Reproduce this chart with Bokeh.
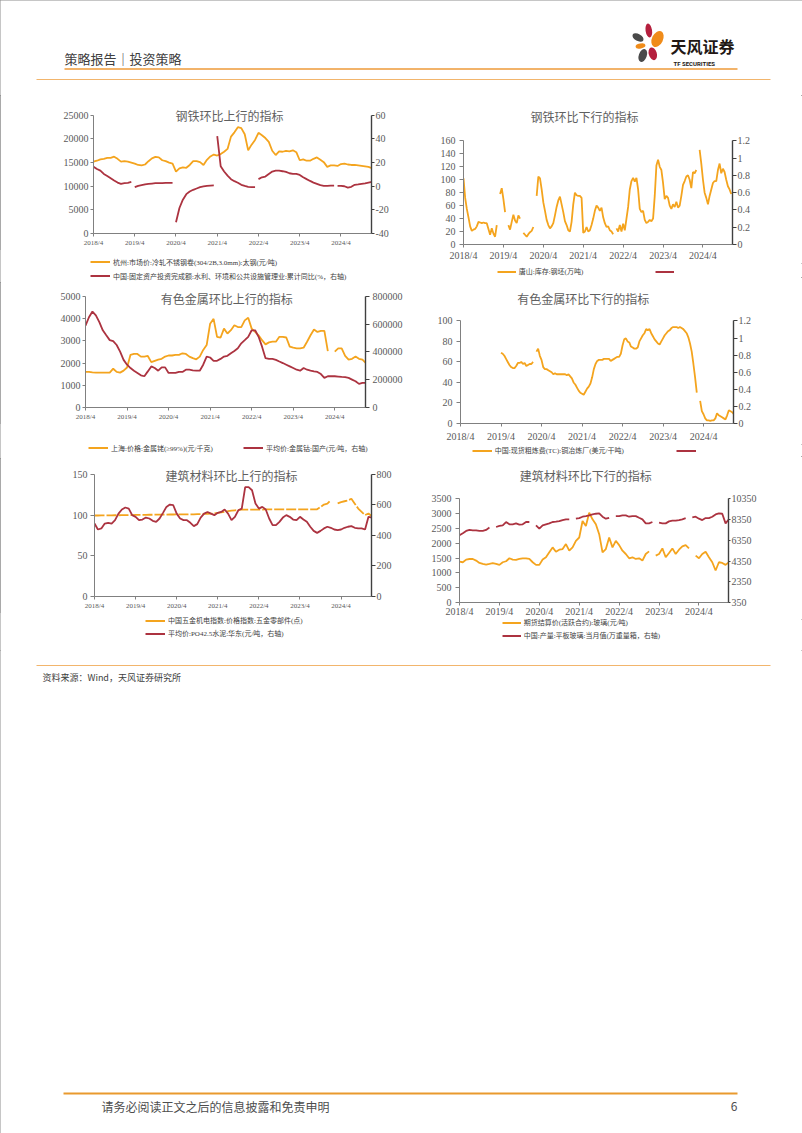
import numpy as np
from bokeh.plotting import figure
from bokeh.models import Range1d, LinearAxis, FixedTicker, Label, Legend, LegendItem
from bokeh.layouts import column, row
from bokeh.embed import file_html
from bokeh.resources import INLINE
from bokeh.core.properties import value

nan = float("nan")
GAP = None  # break in a line without skipping a month

ORANGE = "#F4A41E"
RED = "#AC3340"
SERIF = "Liberation Serif, Noto Sans CJK SC"
CJK = "Noto Sans CJK SC"

YEAR_TICKS = ["2018/4", "2019/4", "2020/4", "2021/4", "2022/4", "2023/4", "2024/4"]

# ---------------- chart 1: 钢铁环比上行的指标 (monthly from 2018/4) ----------------
c1_title = "钢铁环比上行的指标"
c1_name_l = "杭州:市场价:冷轧不锈钢卷(304/2B,3.0mm):太钢(元/吨)"
c1_name_r = "中国:固定资产投资完成额:水利、环境和公共设施管理业:累计同比(%，右轴)"
c1_ticks_l = ["0", "5000", "10000", "15000", "20000", "25000"]
c1_ticks_r = ["-40", "-20", "0", "20", "40", "60"]
c1_steel = [15200, 15400, 15700, 15800, 16000, 16000, 16250, 15800, 15200, 15300, 15200, 15000,
            14800, 14500, 14400, 14600, 15300, 15900, 16200, 16100, 15500, 15300, 15000, 14800,
            13100, 13800, 14000, 13900, 14500, 15300, 15300, 15100, 14500, 15600, 16300, 16700,
            16500, 16800, 17300, 17900, 20500, 21400, 22500, 22300, 21000, 17600, 18800, 19800,
            21300, 20800, 20200, 19400, 17500, 16600, 17400, 17300, 17500, 17400, 17600, 17200,
            15500, 15700, 15400, 15400, 15800, 16100, 15600, 15100, 14100, 14400, 14400, 14300,
            14700, 14800, 14600, 14500, 14500, 14400, 14300, 14200, 14100, 13800]
c1_fai = [16.6, 14.6, 13.2, 10.4, 8.7, 6.8, 4.8, 3.1, 2.0, 2.6, 2.9, 3.7, GAP,
          -0.8, 0.3, 0.9, 1.5, 2.0, 2.3, 2.6, 2.6, 2.6, 2.8, 2.9, 2.9, GAP,
          -30.5, -18.4, -11.4, -6.7, -4.4, -3.0, -1.9, -0.8, -0.2, 0.3, 0.6, 0.7, GAP,
          42.4, 17.0, 12.5, 9.0, 6.0, 4.3, 3.0, 1.2, 0.3, -0.5, -0.8, -0.8, GAP,
          6.0, 7.6, 8.2, 10.4, 12.4, 13.2, 13.2, 12.7, 12.1, 11.0, 10.4, 10.4, 9.6, 7.6, 6.0,
          4.5, 3.1, 2.0, 0.9, 0.3, 0.3, 0.5, 0.5, GAP,
          0.3, 0.3, 0.0, -1.1, -0.5, 1.2, 1.5, 2.0, 2.5, 3.1, 3.7]

# ---------------- chart 2: 钢铁环比下行的指标 (half-monthly from 2018/4) ----------------
c2_title = "钢铁环比下行的指标"
c2_name_l = "唐山:库存:钢坯(万吨)"
c2_ticks_l = ["0", "20", "40", "60", "80", "100", "120", "140", "160"]
c2_ticks_r = ["0", "0.2", "0.4", "0.6", "0.8", "1", "1.2"]
c2_billet = [102, 72, 55, 42, 28, 21, 23, 24, 28, 35, 34, 33, 34, 33, 33, 24, 15, 25, 17, 12, 30, nan,
             78, 87, 70, 50, nan, 30, 23, 35, 46, 37, 33, 45, 40, nan, 18, 15, 12, 16, 19, 21, 27, nan,
             75, 105, 102, 85, 65, 52, 38, 30, 25, 28, 33, 45, 58, 68, 74, 62, 50, 36, 30, 22, 20, 35,
             62, 80, 76, 75, 75, 72, 18, 20, 27, 20, 22, 30, 40, 52, 60, 57, 52, 57, 42, 33, 27, 28,
             22, 20, 16, nan, 25, 20, 30, 20, 32, 22, 40, 58, 85, 98, 103, 97, 103, 85, 55, 50, 52, 38,
             33, 35, 38, 36, 40, 75, 122, 131, 120, 115, 95, 70, 75, 72, 60, 55, 62, 58, 66, 57, 60, 75,
             92, 98, 105, 107, 100, 87, 112, 110, 115, nan, 146, 125, 100, 80, 72, 62, 75, 85, 95, 98,
             98, 115, 125, 110, 117, 112, 100, 90, 85, 78]

# ---------------- chart 3: 有色金属环比上行的指标 (monthly from 2018/4) ----------------
c3_title = "有色金属环比上行的指标"
c3_name_l = "上海:价格:金属铑(≥99%)(元/千克)"
c3_name_r = "平均价:金属钴:国产(元/吨，右轴)"
c3_ticks_l = ["0", "1000", "2000", "3000", "4000", "5000"]
c3_ticks_r = ["0", "200000", "400000", "600000", "800000"]
c3_rhodium = [1600, 1600, 1580, 1570, 1570, 1570, 1570, 1570, 1745, 1600, 1570, 1660,
              1800, 2370, 2410, 2410, 2290, 2290, 2320, 2040, 2100, 2150, 2190, 2290,
              2340, 2340, 2370, 2370, 2440, 2410, 2290, 2220, 2170, 2290, 2590, 2810,
              3770, 3990, 3180, 3140, 3550, 3330, 3480, 3700, 3620, 3620, 3920, 4040,
              3550, 3400, 3250, 3030, 2840, 2930, 2960, 2960, 3180, 3180, 3150, 2740,
              2690, 2660, 2660, 2690, 2960, 3250, 3510, 3400, 3450, 3450, 2540, nan,
              2510, 2660, 2660, 2320, 2150, 2190, 2290, 2190, 2150, 2000]
c3_cobalt = [590000, 650000, 691000, 663000, 615000, 556000, 520000, 485000, 478000, 450000, 402000, 343000,
             308000, 284000, 265000, 249000, 232000, 225000, 260000, 296000, 284000, 265000, 289000, 289000,
             249000, 249000, 249000, 256000, 256000, 272000, 272000, 268000, 265000, 265000, 308000, 367000,
             360000, 336000, 336000, 350000, 367000, 372000, 390000, 407000, 426000, 462000, 485000, 509000,
             556000, 556000, 509000, 438000, 355000, 350000, 350000, 343000, 331000, 320000, 308000, 296000,
             284000, 272000, 265000, 284000, 272000, 265000, 260000, 256000, 241000, 213000, 225000, 225000,
             225000, 223000, 220000, 218000, 213000, 201000, 189000, 170000, 177000, 177000]

# ---------------- chart 4: 有色金属环比下行的指标 (half-monthly from 2019/4) ----------------
c4_title = "有色金属环比下行的指标"
c4_name_l = "中国:现货粗炼费(TC):铜冶炼厂(美元/干吨)"
c4_ticks_l = ["0", "20", "40", "60", "80", "100"]
c4_ticks_r = ["0", "0.2", "0.4", "0.6", "0.8", "1", "1.2"]
c4_tc = [69, 68, 66, 63, 60, 57, 55, 54, 54, 56, 59, 59, 60, 58, 59, 56, 57, 58, 58, 60, nan,
         70, 73, 66, 62, 55, 53, 53, 52, 51, 50, 48, 49, 48, 48, 48, 48, 48, 48, 47, 48,
         46, 44, 40, 38, 35, 32, 30, 29, 28, 31, 34, 36, 39, 45, 53, 58, 61, 62, 62, 62,
         63, 63, 63, 63, 61, 62, 63, 64, 65, 65, 68, 76, 82, 83, 80, 79, 75, 74, 73, 73,
         74, 80, 83, 86, 88, 92, 91, 92, 88, 85, 82, 80, 78, 77, 80, 83, 86, 88, 90, 91,
         93, 94, 94, 94, 93, 94, 93, 92, 90, 88, 84, 78, 70, 58, 45, 30, nan,
         22, 12, 9, 5, 3, 3, 2.5, 3, 3, 5, 10, 8, 7, 6, 5, 4, 8, 13, 12, 11, 9]

# ---------------- chart 5: 建筑材料环比上行的指标 (monthly from 2018/4) ----------------
c5_title = "建筑材料环比上行的指标"
c5_name_l = "中国五金机电指数:价格指数:五金零部件(点)"
c5_name_r = "平均价:PO42.5水泥:华东(元/吨，右轴)"
c5_ticks_l = ["0", "50", "100", "150"]
c5_ticks_r = ["0", "200", "400", "600", "800"]
c5_hardware = [99.5, 99.5, 99.6, 99.6, 99.7, 99.7, 99.8, 99.8, 99.9, 99.9, 100, 100,
               100.2, 100.2, 100.3, 100.3, 100.4, 100.4, 100.5, 100.5, 100.6, 100.6, 100.7, 100.7,
               100.8, 100.8, 100.9, 100.9, 101, 101, 101.1, 101.2, 101.4, 101.6, 101.8, 102.0,
               102.7, 103.3, 104.0, 104.8, 105.4, 105.9, 106.4, 106.6, 106.7, 106.8, 106.8, 106.8,
               106.8, 106.8, 106.9, 106.9, 106.9, 106.9, 107, 107, 107, 107, 107, 107,
               107, 107, 107.1, 107.1, 107.1, 107.2, 110, 113, 114, 118.5, nan, 114.5,
               116, 117, 118, 120, 114, 108, 104, 100, 102, 98.5]
c5_cement = [478, 439, 446, 478, 483, 478, 500, 543, 570, 583, 576, 533,
             522, 500, 504, 517, 511, 496, 489, 511, 548, 587, 602, 598,
             543, 511, 500, 500, 483, 461, 474, 517, 543, 554, 543, 533,
             548, 554, 570, 543, 500, 522, 565, 576, 717, 717, 696, 609,
             576, 587, 570, 511, 467, 467, 489, 517, 533, 522, 504, 500,
             522, 504, 489, 457, 430, 417, 430, 446, 457, 450, 439, 435,
             439, 450, 457, 461, 450, 446, 446, 439, 522, 517]

# ---------------- chart 6: 建筑材料环比下行的指标 (monthly from 2018/4) ----------------
c6_title = "建筑材料环比下行的指标"
c6_name_l = "期货结算价(活跃合约):玻璃(元/吨)"
c6_name_r = "中国:产量:平板玻璃:当月值(万重量箱，右轴)"
c6_ticks_l = ["0", "500", "1000", "1500", "2000", "2500", "3000", "3500"]
c6_ticks_r = ["350", "2350", "4350", "6350", "8350", "10350"]
c6_glass = [1382, 1360, 1450, 1470, 1470, 1416, 1338, 1304, 1282, 1304, 1327, 1304,
            1271, 1360, 1394, 1494, 1450, 1438, 1472, 1494, 1494, 1472, 1360, 1271,
            1271, 1450, 1527, 1695, 1862, 1717, 1784, 1806, 1973, 1750, 1862, 2085,
            2196, 2754, 2587, 3032, 2809, 2642, 2308, 1695, 1806, 2196, 1862, 2085,
            1940, 1750, 1639, 1494, 1527, 1472, 1494, 1416, 1639, 1728, nan, 1583,
            1639, 1828, 1527, 1672, 1828, 1639, 1784, 1895, 1940, 1828, nan, 1583,
            1494, 1639, 1717, 1527, 1360, 1081, 1360, 1338, 1271, 1360]
c6_output = [6850, 7040, 7260, 7360, 7320, 7320, 7260, 7260, 7360, 7580, nan, 7640,
             7740, 7800, 8120, 7900, 7900, 7990, 7870, 7900, 8120, 8120, nan, 7800,
             7480, 7800, 7900, 7990, 8120, 8150, 8210, 8310, 8380, 8380, nan, 8440,
             8500, 8630, 8690, 8760, 8850, 8920, 8950, 8630, 8440, 8530, nan, 8690,
             8690, 8760, 8760, 8630, 8690, 8690, 8530, 8380, 7990, 7990, 8120, nan,
             8060, 7990, 7990, 8180, 8250, 8250, 8310, 8380, 8500, nan, 8570, 8630,
             8440, 8310, 8500, 8500, 8630, 8850, 8950, 8920, 7990, 8380]

X0, X1 = 2018.25, 2024.99


def series(start, vals, per_year=12):
    t, y, k = [], [], 0
    for v in vals:
        if v is None:
            t.append(nan); y.append(nan)
        else:
            t.append(start + k / per_year); y.append(v); k += 1
    return np.array(t, float), np.array(y, float)


def make_chart(cfg):
    bl, br, bb = cfg["b"]
    fh = cfg["h"] - bb
    k = fh / cfg["data_h"]           # frame extends above the top tick to hold the title
    l0, l1 = float(cfg["tl"][0]), float(cfg["tl"][-1])
    r0, r1 = float(cfg["tr"][0]), float(cfg["tr"][-1])
    p = figure(width=cfg["w"], height=cfg["h"],
               min_border_left=bl, min_border_top=0, min_border_right=br, min_border_bottom=bb,
               x_range=Range1d(X0, X1), y_range=Range1d(l0, l0 + (l1 - l0) * k),
               output_backend="svg", toolbar_location=None,
               outline_line_color=None, background_fill_color="white",
               border_fill_color="white")
    p.xgrid.visible = False
    p.ygrid.visible = False
    p.extra_y_ranges = {"r": Range1d(r0, r0 + (r1 - r0) * k)}
    ra = LinearAxis(y_range_name="r")
    p.add_layout(ra, "right")

    xa = p.xaxis[0]
    xt = [2018.25 + i for i in range(len(YEAR_TICKS))]
    xa.ticker = FixedTicker(ticks=xt)
    xa.major_label_overrides = {v: s for v, s in zip(xt, YEAR_TICKS)}
    xa.major_label_text_font_size = cfg["xfs"]
    xa.major_label_standoff = cfg["xs"]
    xa.major_tick_out = 3
    xa.major_tick_in = 0
    xa.minor_tick_out = 0
    xa.minor_tick_in = 0
    xa.axis_line_color = "#808080"
    xa.major_tick_line_color = "#808080"

    la = p.yaxis[0]
    for ax, ticks, (to, so) in ((la, cfg["tl"], cfg["ls"]), (ra, cfg["tr"], cfg["rs"])):
        tv = [float(s) for s in ticks]
        ax.ticker = FixedTicker(ticks=tv)
        ax.bounds = (tv[0], tv[-1])
        ax.major_label_overrides = {v: s for v, s in zip(tv, ticks)}
        ax.major_label_text_font_size = cfg["yfs"]
        ax.major_tick_out = to
        ax.major_tick_in = 0
        ax.minor_tick_out = 0
        ax.minor_tick_in = 0
        ax.major_label_standoff = so
    la.axis_line_color = "#808080"
    la.major_tick_line_color = "#808080"
    ra.axis_line_color = "#404040"
    ra.axis_line_width = 1.4
    ra.major_tick_line_color = "#404040"
    for ax in (xa, la, ra):
        ax.major_label_text_font = "Liberation Serif"
        ax.major_label_text_color = "#595959"

    tl, yl = cfg["left"]
    p.line(tl, yl, line_color=ORANGE, line_width=1.8, line_dash=cfg.get("dash", "solid"))
    tr, yr = cfg["right"]
    p.line(tr, yr, line_color=RED, line_width=1.8, y_range_name="r")

    tx, tdy = cfg["tpos"]
    p.add_layout(Label(x=tx, y=l1, y_offset=tdy, text=cfg["title"], text_align="left",
                       text_baseline="middle", text_font=CJK, text_font_size="12px",
                       text_color="#606060"))
    return p


def make_legend(w, h, names, orient, lx, ly, gw, sp, lw):
    q = figure(width=w, height=h, x_range=Range1d(0, 1), y_range=Range1d(0, 1),
               x_axis_location=None, y_axis_location=None, output_backend="svg",
               toolbar_location=None, min_border=0, outline_line_color=None,
               background_fill_color="white", border_fill_color="white")
    q.xgrid.visible = False
    q.ygrid.visible = False
    items = []
    for name, col in zip(names, (ORANGE, RED)):
        # key-only renderer (no visible points); it only supplies the legend swatch style
        r = q.line(x=[nan], y=[nan], line_color=col, line_width=2)
        items.append(LegendItem(label=value(name), renderers=[r]))
    q.add_layout(Legend(items=items, location=(lx, ly), orientation=orient,
                        padding=0, margin=0, spacing=sp, label_standoff=3,
                        glyph_width=gw, glyph_height=9, label_height=9, label_width=lw,
                        label_text_font_size="7px", label_text_font=SERIF,
                        label_text_color="#404040", border_line_color=None,
                        background_fill_alpha=0), "center")
    return q


empty = (np.array([], float), np.array([], float))

# left column ------------------------------------------------------------
c1 = make_chart(dict(w=405, h=154, b=(93, 34, 15), data_h=119, tl=c1_ticks_l, tr=c1_ticks_r,
                     xfs="7px", xs=2, yfs="10px", ls=(3, 2), rs=(3, 1),
                     left=series(2018.25, c1_steel), right=series(2018.25, c1_fai),
                     title=c1_title, tpos=(2020.24, -0.5)))
l1 = make_legend(405, 33, [c1_name_l, c1_name_r], "vertical", 90, 1.5, 20, 4, 20)
c3 = make_chart(dict(w=405, h=141, b=(85, 40, 15), data_h=112, tl=c3_ticks_l, tr=c3_ticks_r,
                     xfs="7px", xs=2, yfs="10px", ls=(3, 2), rs=(4, 3),
                     left=series(2018.25, c3_rhodium), right=series(2018.25, c3_cobalt),
                     title=c3_title, tpos=(2020.06, -1.7)))
l3 = make_legend(405, 35, [c3_name_l, c3_name_r], "horizontal", 88, 5.2, 20, 0, 132)
c5 = make_chart(dict(w=405, h=154, b=(94, 34, 15), data_h=123, tl=c5_ticks_l, tr=c5_ticks_r,
                     xfs="7px", xs=2, yfs="10px", ls=(4, 3), rs=(4, 1),
                     left=series(2018.25, c5_hardware), right=series(2018.25, c5_cement),
                     title=c5_title, tpos=(2019.98, -1), dash="10 2"))
l5 = make_legend(405, 38, [c5_name_l, c5_name_r], "vertical", 145, 11.8, 20, 3, 20)

# right column -----------------------------------------------------------
c2 = make_chart(dict(w=397, h=168, b=(58, 70, 17), data_h=105, tl=c2_ticks_l, tr=c2_ticks_r,
                     xfs="10px", xs=2, yfs="10px", ls=(4, 4), rs=(4, 1),
                     left=series(2018.25, c2_billet, 24), right=empty,
                     title=c2_title, tpos=(2019.93, 24)))
l2 = make_legend(397, 14, [c2_name_l, " "], "horizontal", 91.7, 0.8, 19, 0, 136)
c4 = make_chart(dict(w=397, h=167, b=(55, 69, 19), data_h=104, tl=c4_ticks_l, tr=c4_ticks_r,
                     xfs="10px", xs=4, yfs="10px", ls=(4, 4), rs=(4, 1),
                     left=series(2019.25, c4_tc, 24), right=empty,
                     title=c4_title, tpos=(2019.65, 22.7)))
l4 = make_legend(397, 12, [c4_name_l, " "], "horizontal", 66.7, 0.8, 20, 0, 181)
c6 = make_chart(dict(w=397, h=163, b=(54, 74, 15), data_h=105, tl=c6_ticks_l, tr=c6_ticks_r,
                     xfs="10px", xs=0, yfs="10px", ls=(4, 4), rs=(2, 1),
                     left=series(2018.25, c6_glass), right=series(2018.25, c6_output),
                     title=c6_title, tpos=(2019.76, 23.3)))
l6 = make_legend(397, 31, [c6_name_l, c6_name_r], "vertical", 96.7, 10, 19, 3, 20)


def canvas(h, y0):
    p = figure(width=802, height=h, x_range=Range1d(0, 802), y_range=Range1d(y0 + h, y0),
               x_axis_location=None, y_axis_location=None, output_backend="svg",
               toolbar_location=None, min_border=0, outline_line_color=None,
               background_fill_color="white", border_fill_color="white")
    p.xgrid.visible = False
    p.ygrid.visible = False
    return p


# ---------------- page header ----------------
hdr = canvas(95, 0)
hdr.text(x=[64], y=[58], text=["策略报告｜投资策略"], text_font=value(CJK), text_font_size="13px",
         text_baseline="middle", text_color="#404040")
hdr.segment(x0=[64], y0=[68.5], x1=[737], y1=[68.5], line_color="#EE9A38", line_width=1.6)
hdr.segment(x0=[36], y0=[79], x1=[770], y1=[79], line_color="#F2B56C", line_width=1)
hdr.ellipse(x=[637.5, 648.3, 657, 640, 642.3, 652.3], y=[37, 30, 38.5, 45.5, 55, 53.3],
            width=[12, 6.5, 11, 10, 8, 8], height=[7, 14, 17, 5, 13.5, 13],
            angle=[-0.5, 0.15, -0.45, 0.2, -0.35, 0.3],
            fill_color=["#4A4A4A", "#B5203E", "#F08C1A", "#F08C1A", "#4A4A4A", "#B5203E"],
            line_color=None)
hdr.text(x=[670], y=[45], text=["天风证券"], text_font=value(CJK), text_font_size="16px",
         text_font_style="bold", text_baseline="middle", text_color="#231815")
hdr.text(x=[673], y=[62.5], text=["TF SECURITIES"], text_font=value("Roboto"), text_font_size="6px",
         text_font_style="bold", text_baseline="middle", text_color="#231815")

# ---------------- page footer ----------------
ftr = canvas(483, 650)
ftr.segment(x0=[36], y0=[665], x1=[770], y1=[665], line_color="#F2B56C", line_width=1)
ftr.text(x=[42], y=[677], text=["资料来源：Wind，天风证券研究所"], text_font=value(CJK),
         text_font_size="9px", text_baseline="middle", text_color="#404040")
ftr.segment(x0=[63], y0=[1093], x1=[737], y1=[1093], line_color="#E99A2E", line_width=2)
ftr.text(x=[101], y=[1106], text=["请务必阅读正文之后的信息披露和免责申明"], text_font=value(CJK),
         text_font_size="12px", text_baseline="middle", text_color="#4d4d4d")
ftr.text(x=[737], y=[1106], text=["6"], text_font=value(CJK), text_font_size="12px",
         text_align="right", text_baseline="middle", text_color="#4d4d4d")

left_col = column(*[column(f) for f in (c1, l1, c3, l3, c5, l5)])
right_col = column(*[column(f) for f in (c2, l2, c4, l4, c6, l6)])
page = column(hdr, row(left_col, right_col), ftr,
              styles={"outline": "1px solid #8c8c8c", "outline-offset": "-1px"})
open("out.html", "w").write(file_html(page, INLINE))
